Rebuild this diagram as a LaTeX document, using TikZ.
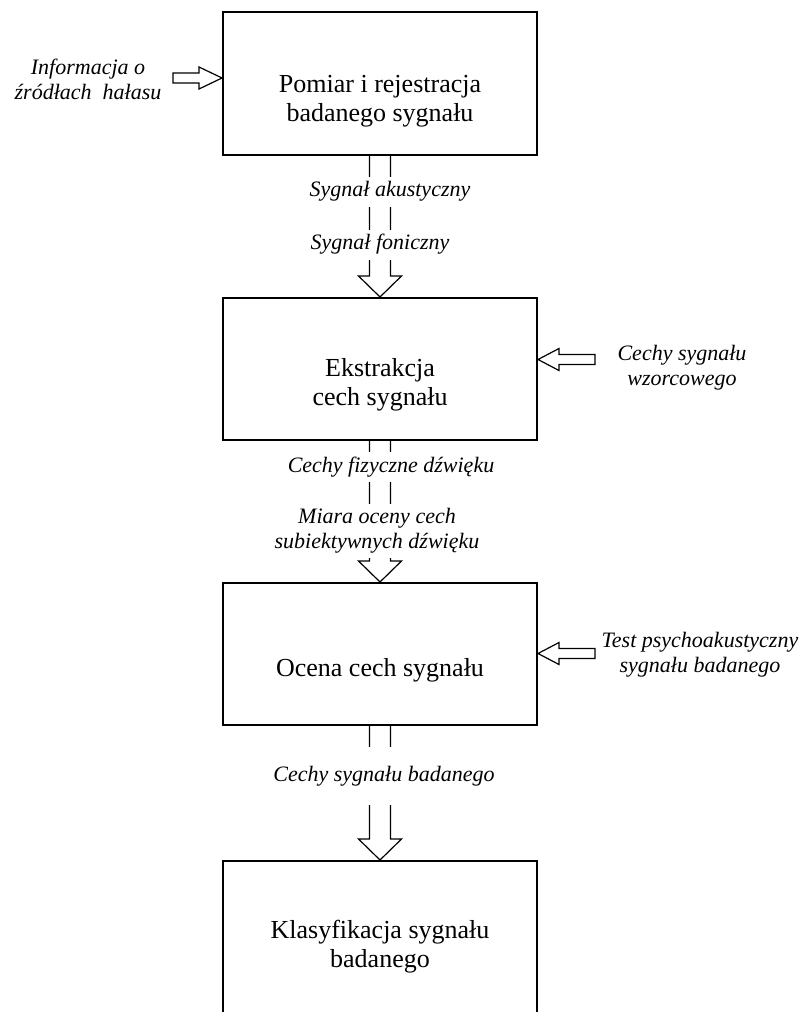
\documentclass[tikz,border=0pt]{standalone}
\usepackage{fontspec}
\setmainfont{Liberation Serif}
\usetikzlibrary{calc}
\tikzstyle{block}=[draw,line width=1.5pt,minimum width=235.5pt,inner sep=0pt]
\tikzstyle{boxtext}=[align=center,font=\fontsize{19.5}{21.75}\selectfont]
\tikzstyle{sig}=[fill=white,font=\itshape\fontsize{16.5}{18.75}\selectfont,text height=11.25pt,text depth=3.75pt,inner xsep=2pt,inner ysep=4pt]
\tikzstyle{sigs}=[align=center,font=\itshape\fontsize{16.5}{18.75}\selectfont,inner sep=2pt]
\tikzstyle{flow}=[line width=0.9pt,line join=miter]
\newcommand{\flowdown}[2]{%
  \draw[flow] ($(#1.south)+(-10.5,0)$) -- ($(#2.north)+(-10.5,-21)$) -- ($(#2.north)+(-21.5,-21)$) -- (#2.north)
    -- ($(#2.north)+(21.5,-21)$) -- ($(#2.north)+(10.5,-21)$) -- ($(#1.south)+(10.5,0)$);}
\newcommand{\flowside}[3]{%
  \draw[flow] ($(#1)+(0,-5)$) -- ($(#2)+(#3,-5)$) -- ($(#2)+(#3,-11)$) -- (#2)
    -- ($(#2)+(#3,11)$) -- ($(#2)+(#3,5)$) -- ($(#1)+(0,5)$) -- cycle;}
\begin{document}
\begin{tikzpicture}[x=0.75pt,y=-0.75pt]
          \clip (0,0) rectangle (805,1012);

          \node[block,minimum height=107.25pt] at (380,83.5) (pom) {};
          \node[block,minimum height=106.5pt] at (380,369) (eks) {};
          \node[block,minimum height=106.5pt] at (380,654) (oce) {};
          \node[block,minimum height=127.5pt] at (380,946) (kla) {};

          \node[boxtext] at (380,101) (pomt) {Pomiar i rejestracja\\badanego sygnału};
          \node[boxtext] at (380,385) (ekst) {Ekstrakcja\\cech sygnału};
          \node[boxtext] at (380,670) (ocet) {Ocena cech sygnału};
          \node[boxtext] at (380,947) (klat) {Klasyfikacja sygnału\\badanego};

          \flowdown{pom}{eks}
          \flowdown{eks}{oce}
          \flowdown{oce}{kla}

          \node[sig,anchor=base] at (390,197) (akus) {Sygnał akustyczny};
          \node[sig,anchor=base] at (380,250) (fon) {Sygnał foniczny};
          \node[sig,anchor=base] at (391,472) (fiz) {Cechy fizyczne dźwięku};
          \node[sigs,fill=white,inner ysep=3.5pt] at (377,531) (miara) {Miara oceny cech\\subiektywnych dźwięku};
          \node[sig,minimum height=43.5pt] at (384,776) (bad) {Cechy sygnału badanego};

          \node[sigs] at (88,79.5) (info) {Informacja o\\źródłach\ \ hałasu};
          \node[sigs] at (682,367.5) (wzor) {Cechy sygnału\\wzorcowego};
          \node[sigs] at (700,654.5) (test) {Test psychoakustyczny\\sygnału badanego};

          \coordinate (infoin) at (173,78);
          \coordinate (wzorin) at (595,359.5);
          \coordinate (testin) at (595,653.5);
          \coordinate (pomin) at (infoin -| pom.west);
          \coordinate (eksin) at (wzorin -| eks.east);
          \coordinate (ocein) at (testin -| oce.east);

          \flowside{infoin}{pomin}{-23}
          \flowside{wzorin}{eksin}{21}
          \flowside{testin}{ocein}{21}
        \end{tikzpicture}
\end{document}
